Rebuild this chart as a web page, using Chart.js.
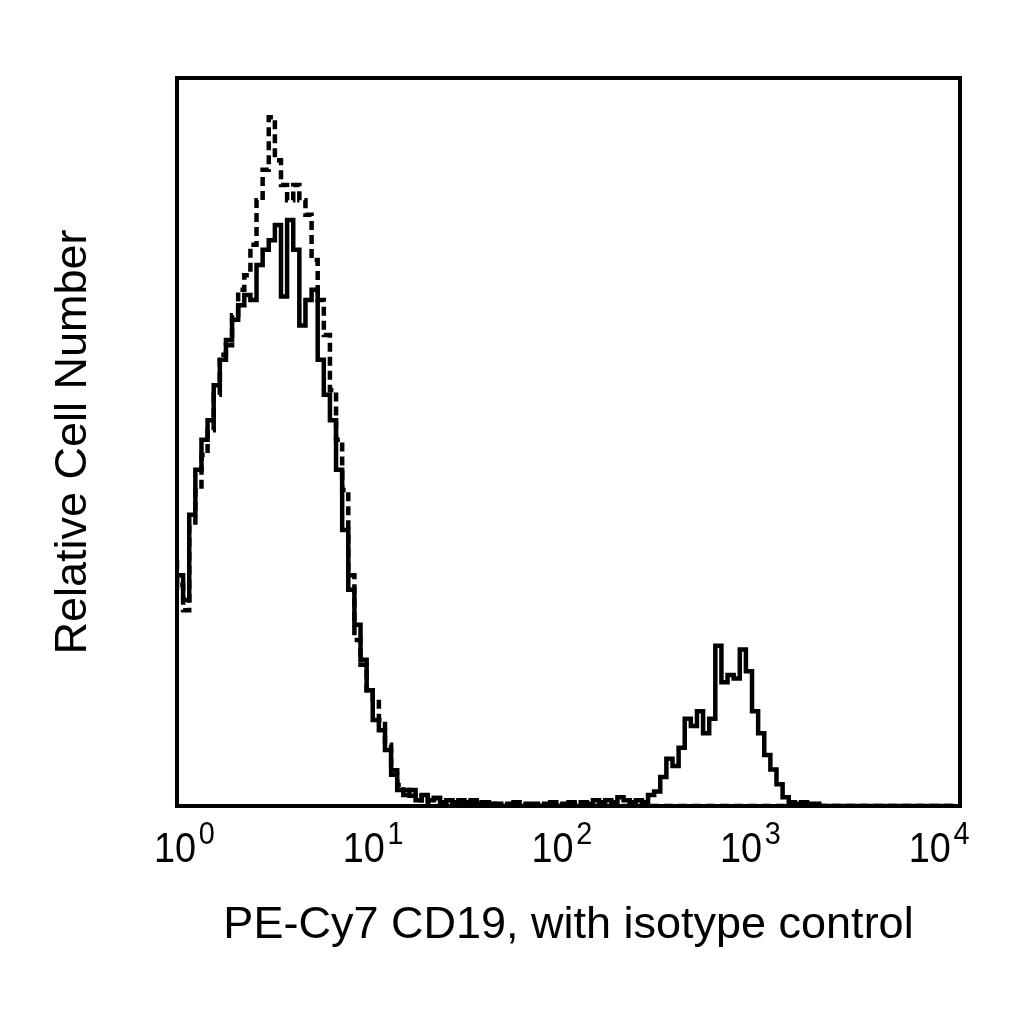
<!DOCTYPE html>
<html>
<head>
<meta charset="utf-8">
<script src="https://cdn.jsdelivr.net/npm/chart.js@4.4.1/dist/chart.umd.min.js"></script>
<style>
  html, body { margin: 0; padding: 0; background: #fff; }
  #wrap { width: 1024px; height: 1024px; }
</style>
</head>
<body>
<div id="wrap"><canvas id="histo"></canvas></div>
<script>
// histogram channels, 32 per decade, from 10^0 up to 10^4
const channelsPerDecade = 32;

// CD19 stained sample (solid line)
const cd19Counts = [
  29.7, 31.7, 28.3, 40.0, 46.2, 50.3, 53.0, 57.8, 61.3, 64.0,
  66.8, 68.8, 70.2, 69.5, 74.3, 76.4, 77.7, 79.8, 70.0, 80.5,
  76.4, 66.0, 69.5, 70.9, 61.3, 56.5, 53.0, 46.2, 37.9, 29.7,
  24.9, 20.1, 15.9, 11.8, 10.4, 7.7, 4.3, 2.2, 1.5, 2.2,
  0.8, 1.5, 0.8, 1.1, 0.5, 0.8, 0.3, 0.8, 0.5, 0.8,
  0.3, 0.5, 0, 0.3, 0, 0.3, 0.5, 0, 0, 0.3,
  0, 0.3, 0.5, 0, 0.3, 0.5, 0, 0.5, 0.3, 0.8,
  0.5, 0.8, 0.5, 1.2, 0.8, 0.5, 0.8, 0.5, 1.5, 2.0,
  4.0, 6.5, 5.5, 8.0, 12.0, 11.0, 13.0, 10.0, 12.0, 22.0,
  17.0, 18.0, 17.5, 21.5, 18.5, 13.0, 10.0, 7.0, 5.0, 3.0,
  1.2, 0.5, 0.3, 0.5, 0.3, 0.3, 0, 0, 0, 0,
  0, 0, 0, 0, 0, 0, 0, 0, 0, 0,
  0, 0, 0, 0, 0, 0, 0, 0
];

// isotype control (dashed line)
const isotypeCounts = [
  33.8, 30.4, 26.9, 38.6, 43.4, 48.2, 51.6, 56.5, 62.0, 63.3,
  67.4, 70.9, 72.9, 77.1, 83.2, 87.4, 94.6, 88.7, 85.3, 83.2,
  85.3, 83.2, 81.2, 75.0, 69.5, 64.7, 57.1, 50.3, 43.4, 31.7,
  22.8, 19.4, 15.9, 14.6, 11.8, 8.4, 4.9, 2.9, 2.2, 1.4,
  0.8, 1.4, 0.5, 1.1, 0.3, 0.8, 0.5, 0.3, 0.8, 0.3,
  0.5, 0, 0.3, 0, 0, 0.3, 0, 0, 0.3, 0,
  0, 0, 0.3, 0, 0, 0, 0.3, 0, 0, 0,
  0, 0, 0, 0, 0, 0, 0, 0, 0, 0,
  0, 0, 0, 0, 0, 0, 0, 0, 0, 0,
  0, 0, 0, 0, 0, 0, 0, 0, 0, 0,
  0, 0, 0, 0, 0, 0, 0, 0, 0, 0,
  0, 0, 0, 0, 0, 0, 0, 0, 0, 0,
  0, 0, 0, 0, 0, 0, 0, 0
];

const decadeTicks = [1, 10, 100, 1000, 10000];
const decadeExponents = ["0", "1", "2", "3", "4"];
const xTitle = "PE-Cy7 CD19, with isotype control";
const yTitle = "Relative Cell Number";

// channel i -> point at 10^(i/32)
function toPoints(counts) {
  return counts.map((v, i) => ({ x: Math.pow(10, i / channelsPerDecade), y: v }));
}

const font = "'Liberation Sans', Arial, sans-serif";

// black box round the plot area
const frame = {
  id: "frame",
  afterDatasetsDraw(chart) {
    const { ctx, chartArea: a } = chart;
    ctx.save();
    ctx.lineWidth = 4;
    ctx.strokeStyle = "#000";
    ctx.strokeRect(a.left, a.top, a.right - a.left, a.bottom - a.top);
    ctx.restore();
  }
};

// "10" with a raised exponent under each decade tick
const decadeLabels = {
  id: "decadeLabels",
  afterDraw(chart) {
    const { ctx, chartArea: a } = chart;
    const xs = chart.scales.x;
    const spread = 0.964; // labels sit a bit closer together than the ticks
    ctx.save();
    ctx.fillStyle = "#000";
    ctx.textBaseline = "alphabetic";
    decadeTicks.forEach((v, k) => {
      const px = a.left - 2 + (xs.getPixelForValue(v) - a.left) * spread;
      ctx.save();
      ctx.translate(px, a.bottom + 56);
      ctx.scale(0.9, 1);
      ctx.font = "42px " + font;
      ctx.textAlign = "center";
      ctx.fillText("10", 0, 0);
      const w = ctx.measureText("10").width;
      ctx.font = "32px " + font;
      ctx.textAlign = "left";
      ctx.fillText(decadeExponents[k], w / 2 + 3, -18);
      ctx.restore();
    });
    ctx.restore();
  }
};

new Chart(document.getElementById("histo"), {
  type: "line",
  data: {
    datasets: [
      {
        label: "PE-Cy7 CD19",
        data: toPoints(cd19Counts),
        borderColor: "#000",
        borderWidth: 4.5,
        pointRadius: 0,
        stepped: "after",
        fill: false
      },
      {
        label: "Isotype control",
        data: toPoints(isotypeCounts),
        borderColor: "#000",
        borderWidth: 4.5,
        borderDash: [9, 5],
        pointRadius: 0,
        stepped: "after",
        fill: false
      }
    ]
  },
  options: {
    responsive: true,
    maintainAspectRatio: false,
    animation: false,
    devicePixelRatio: 1,
    layout: { padding: { left: 0, top: 78, right: 64, bottom: 0 } },
    plugins: { legend: { display: false }, tooltip: { enabled: false } },
    scales: {
      x: {
        type: "logarithmic",
        min: 1,
        max: 10000,
        afterBuildTicks(scale) {
          scale.ticks = decadeTicks.map(v => ({ value: v }));
        },
        afterFit(scale) { scale.height = 218; },
        ticks: { display: false },
        grid: { display: false, drawTicks: false },
        border: { display: false },
        title: {
          display: true,
          text: xTitle,
          color: "#000",
          font: { family: font, size: 45 },
          padding: { top: 0, bottom: 71 }
        }
      },
      y: {
        min: 0,
        max: 100,
        afterFit(scale) { scale.width = 177; },
        ticks: { display: false },
        grid: { display: false, drawTicks: false },
        border: { display: false },
        title: {
          display: true,
          text: yTitle,
          color: "#000",
          font: { family: font, size: 45 },
          padding: { top: 47, bottom: 0 }
        }
      }
    }
  },
  plugins: [frame, decadeLabels]
});
</script>
</body>
</html>
